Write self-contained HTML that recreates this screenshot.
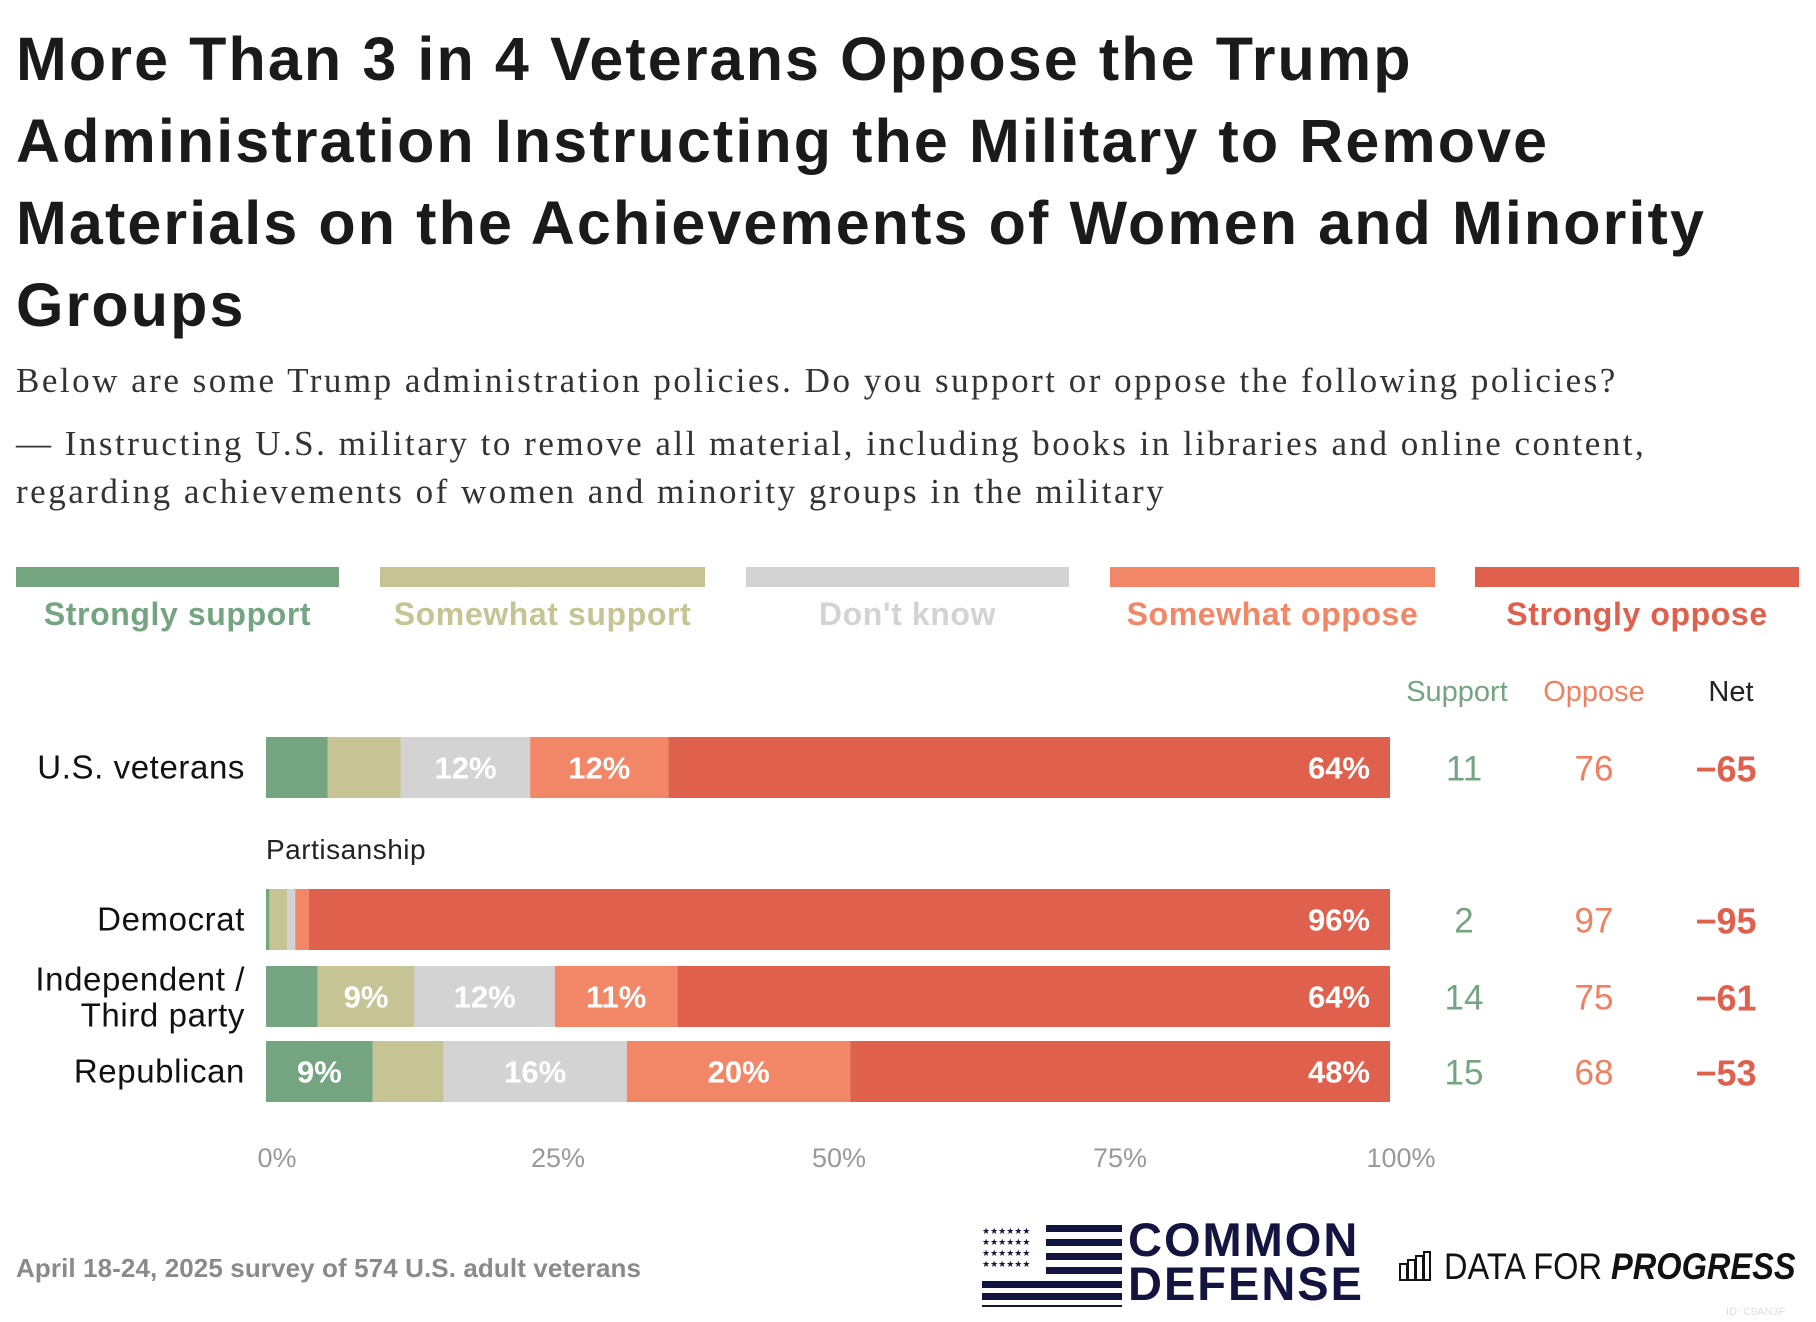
<!DOCTYPE html>
<html><head><meta charset="utf-8"><style>
body{margin:0;width:1816px;height:1322px;background:#fff;overflow:hidden;font-family:"Liberation Sans",sans-serif;position:relative}
.t{position:absolute;white-space:nowrap}
h1{position:absolute;left:16px;top:18px;margin:0;font-size:61px;line-height:82px;font-weight:bold;color:#1a1a1a;letter-spacing:2.1px}
.sub{font-family:"Liberation Serif",serif;font-size:35px;color:#333;line-height:48px;letter-spacing:2.5px}
</style></head><body>
<h1>More Than 3 in 4 Veterans Oppose the Trump<br>Administration Instructing the Military to Remove<br>Materials on the Achievements of Women and Minority<br>Groups</h1>
<div class="t sub" style="left:16px;top:357px">Below are some Trump administration policies. Do you support or oppose the following policies?</div>
<div class="t sub" style="left:16px;top:420px">— Instructing U.S. military to remove all material, including books in libraries and online content,<br>regarding achievements of women and minority groups in the military</div>
<svg id="chart" width="1816" height="1322" style="position:absolute;left:0;top:0"></svg>
<div class="t" style="left:16px;top:1253px;font-size:26px;letter-spacing:0.1px;color:#8a8a8a;font-weight:bold">April 18-24, 2025 survey of 574 U.S. adult veterans</div>
<svg style="position:absolute;left:982px;top:1225px" width="140" height="82">
<g fill="#141440">
<rect x="64" y="0" width="76" height="7"/><rect x="64" y="14" width="76" height="7"/><rect x="64" y="28" width="76" height="7"/><rect x="64" y="42" width="76" height="7"/>
<rect x="0" y="56" width="140" height="7"/><rect x="0" y="68" width="140" height="7"/><rect x="0" y="80" width="140" height="2"/>
</g>
<g fill="#141440" font-size="9"><text x="0" y="9" font-family="DejaVu Sans">★★★★★★</text><text x="0" y="20" font-family="DejaVu Sans">★★★★★★</text><text x="0" y="31" font-family="DejaVu Sans">★★★★★★</text><text x="0" y="42" font-family="DejaVu Sans">★★★★★★</text></g>
</svg>
<div class="t" style="left:1128px;top:1218px;font-size:47px;line-height:44px;font-weight:bold;color:#141440;letter-spacing:2px">COMMON<br>DEFENSE</div>
<svg style="position:absolute;left:1399px;top:1250px" width="32" height="32"><g fill="none" stroke="#111" stroke-width="2"><rect x="1" y="14" width="7" height="16"/><rect x="9" y="10" width="7" height="20"/><rect x="17" y="6" width="7" height="24"/><rect x="25" y="2" width="6" height="28"/></g></svg>
<div class="t" style="left:1444px;top:1246px;font-size:37px;color:#111;transform:scaleX(0.88);transform-origin:0 0">DATA FOR <b><i>PROGRESS</i></b></div>
<div class="t" style="left:1726px;top:1306px;font-size:11px;color:#ddd">ID: C9AN3F</div>
<script>
const categories=["U.S. veterans","Democrat","Independent / Third party","Republican"];
const seriesNames=["Strongly support","Somewhat support","Don't know","Somewhat oppose","Strongly oppose"];
const strongSupport=[5.5,0.3,4.6,9.5];
const someSupport=[6.5,1.6,8.6,6.3];
const dontKnow=[11.5,0.7,12.5,16.3];
const someOppose=[12.3,1.2,10.9,19.9];
const strongOppose=[64.2,96.2,63.4,48.0];
const segLabels=[["","","12%","12%","64%"],["","","","","96%"],["","9%","12%","11%","64%"],["9%","","16%","20%","48%"]];
const supportVals=[11,2,14,15];
const opposeVals=[76,97,75,68];
const netVals=["−65","−95","−61","−53"];
const ticks=[0,25,50,75,100];
const tickLabels=["0%","25%","50%","75%","100%"];
const colors=["#74a580","#c6c494","#d3d3d3","#f28768","#df604d"];
const x0=266,x1=1390;
const X=v=>x0+(x1-x0)*v/100;
const rowTop=[737,889,966,1041],barH=61;
const svg=document.getElementById('chart');
const NS="http://www.w3.org/2000/svg";
function mk(t,a,txt){const e=document.createElementNS(NS,t);for(const k in a)e.setAttribute(k,a[k]);if(txt!==undefined)e.textContent=txt;svg.appendChild(e);return e;}
const legX=[[16,339],[380,705],[746,1069],[1110,1435],[1475,1799]];
const legText=["#74a580","#c6c494","#d3d3d3","#f28768","#df604d"];
seriesNames.forEach((n,i)=>{
 const r=mk('rect',{x:legX[i][0],y:567,width:legX[i][1]-legX[i][0],height:20,fill:colors[i]});
 
 
 const t=mk('text',{x:(legX[i][0]+legX[i][1])/2,y:625,'text-anchor':'middle','font-size':32,'font-weight':'bold','letter-spacing':0.6,fill:legText[i]},n);
 
 
});
[["Support",1457,"#74a580"],["Oppose",1594,"#f08060"],["Net",1731,"#222"]].forEach(h=>{
 const t=mk('text',{x:h[1],y:701,'text-anchor':'middle','font-size':29,fill:h[2]},h[0]);
 
 
});
const p=mk('text',{x:266,y:859,'font-size':28,'letter-spacing':0.5,fill:'#222'},"Partisanship");


const series=[strongSupport,someSupport,dontKnow,someOppose,strongOppose];
categories.forEach((c,r)=>{
 const y=rowTop[r];
 let acc=0;
 series.forEach((s,i)=>{
  const v=s[r];
  const rect=mk('rect',{x:X(acc),y:y,width:X(acc+v)-X(acc),height:barH,fill:colors[i]});
  
  
  const lab=segLabels[r][i];
  if(lab){
   const last=i===4;
   const t=mk('text',{x:last?X(acc+v)-20:(X(acc)+X(acc+v))/2,y:y+barH/2+11,'text-anchor':last?'end':'middle','font-size':31,'font-weight':'bold',fill:'#fff'},lab);
   
   
  }
  acc+=v;
 });
 const mid=y+barH/2;
 if(r===2){
  const a=mk('text',{x:245,y:mid-6,'text-anchor':'end','font-size':33,'letter-spacing':0.6,fill:'#111'},"Independent /");
  
  
  const b=mk('text',{x:245,y:mid+30,'text-anchor':'end','font-size':33,'letter-spacing':0.6,fill:'#111'},"Third party");
  
  
 } else {
  const a=mk('text',{x:245,y:mid+11,'text-anchor':'end','font-size':33,'letter-spacing':0.6,fill:'#111'},c);
  
  
 }
 const s1=mk('text',{x:1464,y:mid+13,'text-anchor':'middle','font-size':35,fill:'#74a580'},supportVals[r]);
 
 
 const s2=mk('text',{x:1594,y:mid+13,'text-anchor':'middle','font-size':35,fill:'#f08060'},opposeVals[r]);
 
 
 const s3=mk('text',{x:1726,y:mid+14,'text-anchor':'middle','font-size':36,'font-weight':'bold',fill:'#df604d'},netVals[r]);
 
 
});
ticks.forEach((tv,i)=>{
 const t=mk('text',{x:X(tv)+11,y:1167,'text-anchor':'middle','font-size':27,fill:'#999'},tickLabels[i]);
 
 
});
</script>
</body></html>
